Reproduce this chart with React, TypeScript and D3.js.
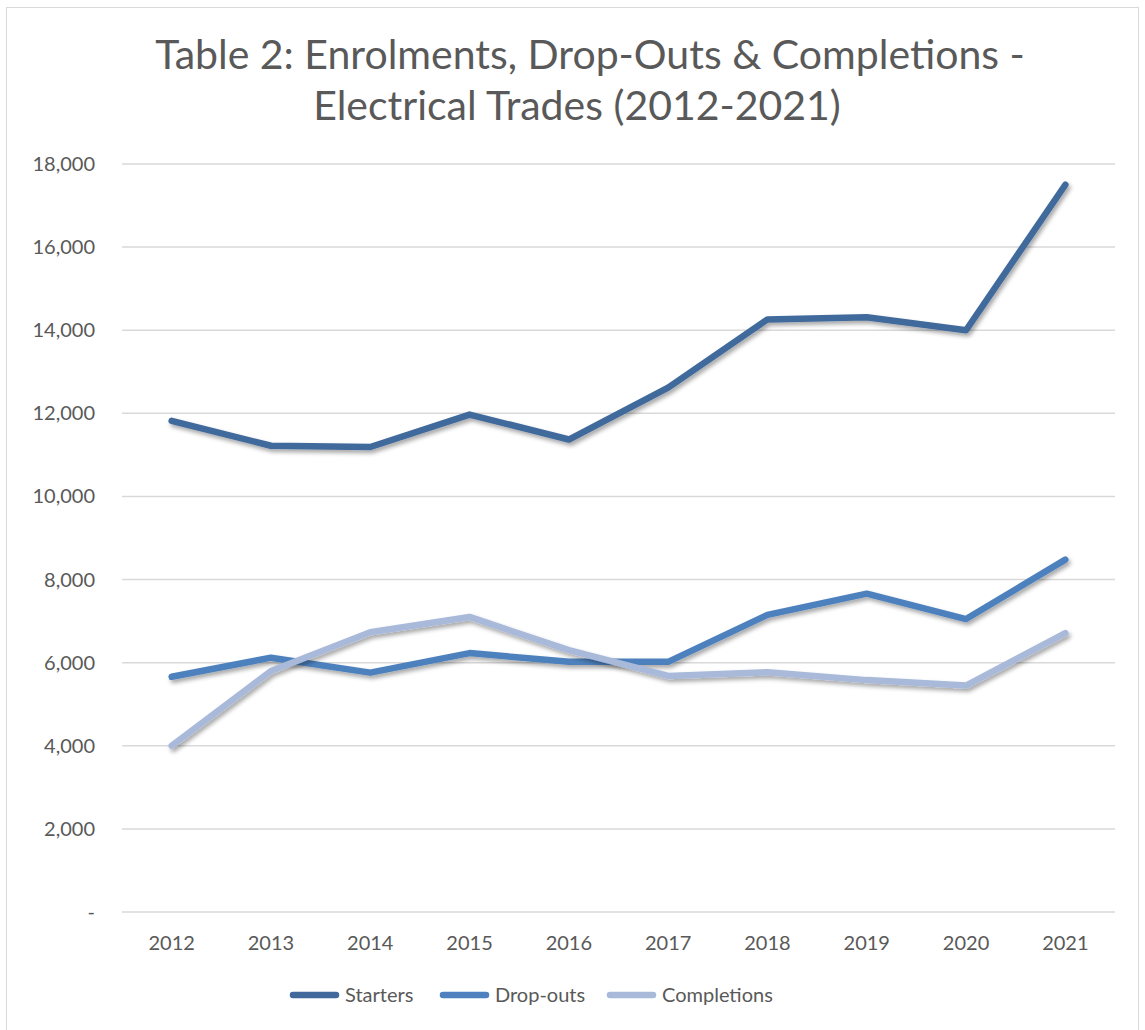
import React, { useEffect, useRef } from 'react';
import * as d3 from 'd3';

const years = ['2012', '2013', '2014', '2015', '2016', '2017', '2018', '2019', '2020', '2021'];
const starters = [11820, 11220, 11190, 11970, 11370, 12620, 14260, 14310, 14000, 17500];
const dropOuts = [5660, 6120, 5760, 6230, 6020, 6020, 7150, 7660, 7050, 8480];
const completions = [4000, 5800, 6730, 7100, 6300, 5680, 5770, 5580, 5450, 6710];
const yTicks = [0, 2000, 4000, 6000, 8000, 10000, 12000, 14000, 16000, 18000];
const seriesNames = ['Starters', 'Drop-outs', 'Completions'];
const colors = ['#41699c', '#4e81bd', '#a8b9da'];

const width = 1145;
const height = 1030;
const font = 'Lato, "Open Sans", sans-serif';

const App = () => {
  const ref = useRef<SVGSVGElement>(null);

  useEffect(() => {
    document.body.style.margin = '0';
    const svg = d3.select(ref.current);
    svg.selectAll('*').remove();

    const x = d3.scaleBand().domain(years).range([122, 1115]);
    const y = d3.scaleLinear().domain([0, 18000]).range([912, 164]);

    // border
    svg
      .append('rect')
      .attr('x', 6.5)
      .attr('y', 7.5)
      .attr('width', 1132)
      .attr('height', 1030)
      .attr('fill', '#fff')
      .attr('stroke', '#d9d9d9');

    const defs = svg.append('defs');
    defs
      .append('filter')
      .attr('id', 'shadow')
      .attr('x', '-10%')
      .attr('y', '-10%')
      .attr('width', '120%')
      .attr('height', '130%')
      .append('feDropShadow')
      .attr('dx', 2)
      .attr('dy', 3)
      .attr('stdDeviation', 2)
      .attr('flood-color', '#000')
      .attr('flood-opacity', 0.35);

    // title
    const title = svg
      .append('text')
      .attr('text-anchor', 'middle')
      .attr('font-family', font)
      .attr('font-size', 41)
      .attr('fill', '#595959');
    title.append('tspan').attr('x', 590).attr('y', 69).text('Table 2: Enrolments, Drop-Outs & Completions -');
    title.append('tspan').attr('x', 577).attr('y', 120).text('Electrical Trades (2012-2021)');

    // gridlines
    svg
      .append('g')
      .selectAll('line')
      .data(yTicks)
      .join('line')
      .attr('x1', 122)
      .attr('x2', 1115)
      .attr('y1', (d) => y(d))
      .attr('y2', (d) => y(d))
      .attr('stroke', '#d9d9d9')
      .attr('stroke-width', 1.5);

    // y labels
    svg
      .append('g')
      .selectAll('text')
      .data(yTicks)
      .join('text')
      .attr('x', 95)
      .attr('y', (d) => y(d) + 7)
      .attr('text-anchor', 'end')
      .attr('font-family', font)
      .attr('font-size', 20)
      .attr('fill', '#595959')
      .text((d) => (d === 0 ? '-' : d3.format(',')(d)));

    // x labels
    svg
      .append('g')
      .selectAll('text')
      .data(years)
      .join('text')
      .attr('x', (d) => x(d)! + x.bandwidth() / 2)
      .attr('y', 950)
      .attr('text-anchor', 'middle')
      .attr('font-family', font)
      .attr('font-size', 20)
      .attr('fill', '#595959')
      .text((d) => d);

    const line = d3
      .line<number>()
      .x((_, i) => x(years[i])! + x.bandwidth() / 2)
      .y((d) => y(d));

    [starters, dropOuts, completions].forEach((vals, i) => {
      svg
        .append('path')
        .datum(vals)
        .attr('fill', 'none')
        .attr('stroke', colors[i])
        .attr('stroke-width', 6.5)
        .attr('stroke-linecap', 'round')
        .attr('stroke-linejoin', 'round')
        .attr('filter', 'url(#shadow)')
        .attr('d', line);
    });

    // legend
    const legendX = [290, 440, 607];
    const legend = svg
      .append('g')
      .selectAll('g')
      .data(seriesNames)
      .join('g')
      .attr('transform', (_, i) => `translate(${legendX[i]},995)`);
    legend
      .append('line')
      .attr('x1', 3)
      .attr('x2', 46)
      .attr('stroke', (_, i) => colors[i])
      .attr('stroke-width', 6.5)
      .attr('stroke-linecap', 'round');
    legend
      .append('text')
      .attr('x', 55)
      .attr('y', 7)
      .attr('font-family', font)
      .attr('font-size', 20)
      .attr('fill', '#595959')
      .text((d) => d);
  }, []);

  return <svg ref={ref} width={width} height={height} style={{ display: 'block' }} />;
};

export default App;
